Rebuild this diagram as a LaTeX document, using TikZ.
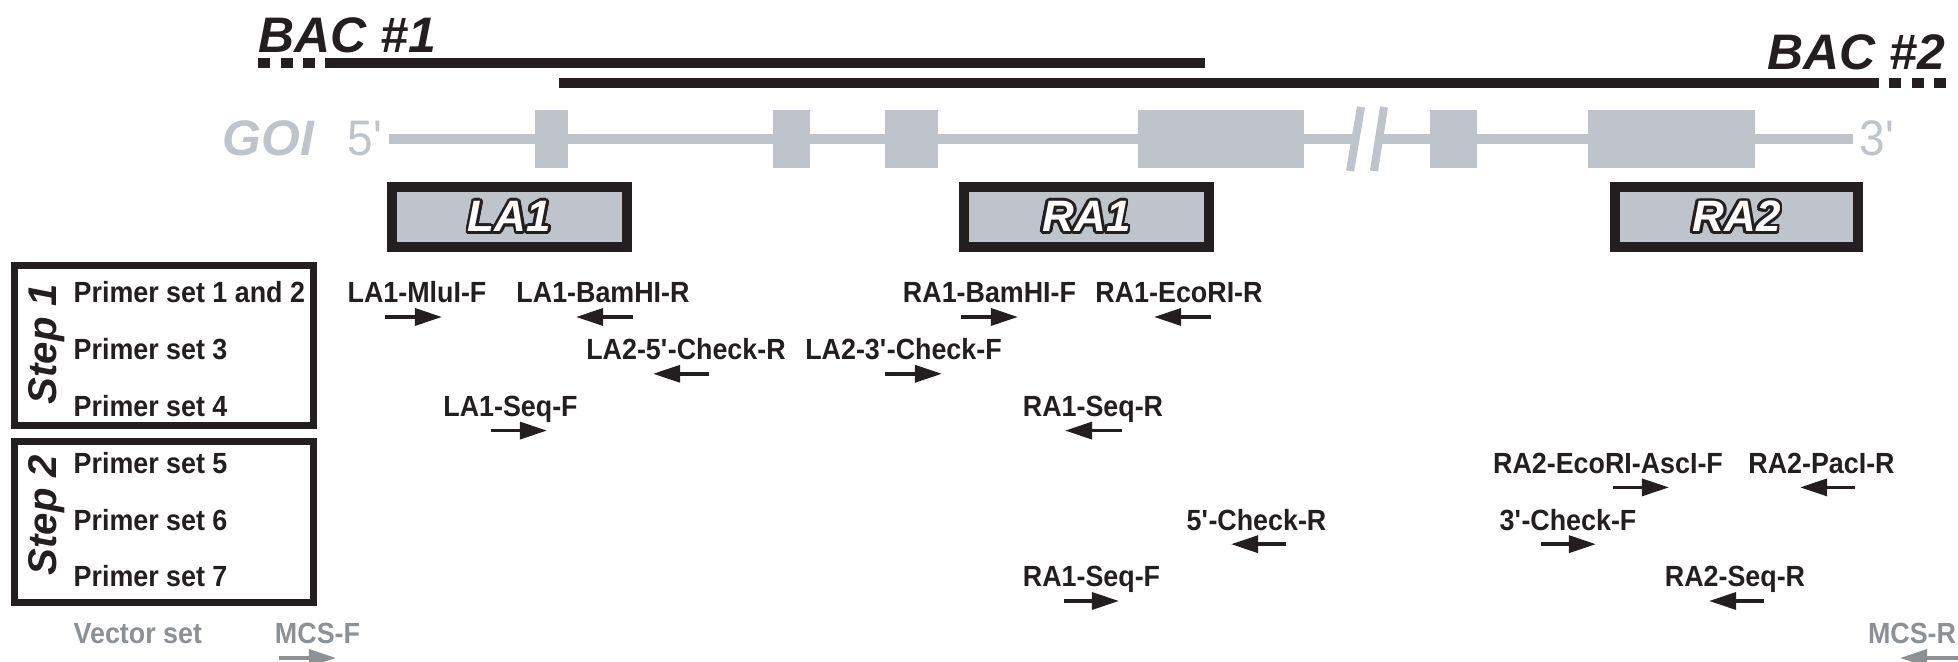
\documentclass[tikz,border=0pt]{standalone}
\usepackage{tikz}
\usepackage{xcolor}
\usepackage{fontspec}
\usepackage{contour}
\usetikzlibrary{arrows.meta}
\setmainfont{Liberation Sans}
\newfontfamily\narrowsans{Liberation Sans}[FakeStretch=0.92]
\definecolor{ink}{HTML}{231F20}
\definecolor{genegray}{HTML}{BFC4CB}
\definecolor{vecgray}{HTML}{8C9196}
\contourlength{0.8pt}
\tikzstyle{bac} = [draw=ink, line width=2.85pt]
\tikzstyle{intron} = [draw=genegray, line width=2.85pt]
\tikzstyle{exon} = [fill=genegray]
\tikzstyle{arm} = [draw=ink, fill=genegray, line width=2.85pt]
\tikzstyle{stepframe} = [draw=ink, line width=2pt]
\tikzstyle{baclabel} = [font=\bfseries\itshape\fontsize{14.2}{16}\selectfont, text=ink, inner sep=0pt]
\tikzstyle{endlabel} = [font=\narrowsans\fontsize{14.2}{16}\selectfont, text=genegray, inner sep=0pt, anchor=base west]
\tikzstyle{armlabel} = [font=\bfseries\itshape\fontsize{12.5}{14}\selectfont, text=white, inner sep=0pt]
\tikzstyle{steplabel} = [font=\bfseries\itshape\fontsize{11.4}{13}\selectfont, text=ink, inner sep=0pt, rotate=90, anchor=base]
\tikzstyle{setlabel} = [font=\narrowsans\bfseries\fontsize{8.3}{10}\selectfont, text=ink, inner sep=0pt, anchor=base west]
\tikzstyle{primer} = [font=\narrowsans\bfseries\fontsize{8.3}{10}\selectfont, text=ink, inner sep=0pt, anchor=base]
\tikzstyle{fwd} = [-{Triangle[length=7.7pt, width=4.8pt]}, draw=ink, line width=1.05pt]
\newcommand{\pr}{\textquotesingle}

\begin{document}
\begin{tikzpicture}[x=0.01cm, y=-0.01cm]
\useasboundingbox (0,0) rectangle (1958,662);

\node[baclabel, anchor=base west] (bac1) at (258,53) {BAC \#1};
\node[baclabel, anchor=base east] (bac2) at (1946,70) {BAC \#2};
\draw[bac, dash pattern=on 3.41pt off 2.99pt] (258,63) -- (316,63);
\draw[bac] (325,63) -- (1205,63);
\draw[bac] (559,83) -- (1879,83);
\draw[bac, dash pattern=on 3.41pt off 2.99pt] (1889,83) -- (1947,83);

\node[font=\bfseries\itshape\fontsize{14.2}{16}\selectfont, text=genegray, inner sep=0pt, anchor=base west] (goi) at (222,156) {GOI};
\node[endlabel] (five) at (347,156) {5\pr};
\node[endlabel] (three) at (1859,156) {3\pr};
\draw[intron] (389,139) -- (1355,139);
\draw[intron] (1379,139) -- (1853,139);
\foreach \a/\b in {535/568, 773/810, 885/938, 1138/1304, 1430/1477, 1588/1755}
  \fill[exon] (\a,110) rectangle (\b,168);
\draw[genegray, line width=2.3pt] (1350,171) -- (1361,107);
\draw[genegray, line width=2.3pt] (1374,171) -- (1384,107);

\draw[arm] (392,187) rectangle (627,247);
\draw[arm] (964,187) rectangle (1209,247);
\draw[arm] (1615,187) rectangle (1858,247);
\node[armlabel] (la1) at (509.5,218) {\contour{ink}{LA1}};
\node[armlabel] (ra1) at (1086.5,218) {\contour{ink}{RA1}};
\node[armlabel] (ra2) at (1736.5,218) {\contour{ink}{RA2}};

\draw[stepframe] (14.5,265.5) rectangle (313.5,425.5);
\draw[stepframe] (14.5,441.5) rectangle (313.5,602.5);
\node[steplabel] (step1) at (56,344) {Step 1};
\node[steplabel] (step2) at (56,515) {Step 2};

\foreach \n/\t [count=\i from 0] in {set1/Primer set 1 and 2, set3/Primer set 3, set4/Primer set 4,
    set5/Primer set 5, set6/Primer set 6, set7/Primer set 7}
  \node[setlabel] (\n) at (73,{303+56.8*\i}) {\t};
\node[setlabel, text=vecgray] (vec) at (73,643.8) {Vector set};

\foreach \id/\txt/\cx/\row/\ta/\tb in {
    mluif/LA1-MluI-F/417/0/385/442,
    bamr/LA1-BamHI-R/603/0/633/576,
    bamf/RA1-BamHI-F/989.5/0/961/1018,
    ecor/RA1-EcoRI-R/1179/0/1211/1154,
    lcr/LA2-5\pr-Check-R/686/1/709/653,
    lcf/LA2-3\pr-Check-F/903.5/1/885/942,
    lseqf/LA1-Seq-F/510.5/2/491/547,
    rseqr/RA1-Seq-R/1093/2/1122/1065,
    ascf/RA2-EcoRI-AscI-F/1608/3/1613/1669,
    pacr/RA2-PacI-R/1821.5/3/1855/1800,
    ccr/5\pr-Check-R/1256.5/4/1286/1231,
    ccf/3\pr-Check-F/1568/4/1541/1596,
    rseqf/RA1-Seq-F/1091.5/5/1064/1119,
    r2seqr/RA2-Seq-R/1735/5/1764/1709}
{
  \node[primer] (\id) at (\cx,{303+56.8*\row}) {\txt};
  \coordinate (\id-t) at (\ta,{317+56.8*\row});
  \coordinate (\id-h) at (\tb,{317+56.8*\row});
  \draw[fwd] (\id-t) -- (\id-h);
}

\node[primer, text=vecgray] (mcsf) at (317.5,643.8) {MCS-F};
\coordinate (mcsf-t) at (279,658);
\coordinate (mcsf-h) at (336,658);
\draw[fwd, draw=vecgray] (mcsf-t) -- (mcsf-h);
\node[primer, text=vecgray] (mcsr) at (1912,643.8) {MCS-R};
\coordinate (mcsr-t) at (1958,658);
\coordinate (mcsr-h) at (1900,658);
\draw[fwd, draw=vecgray] (mcsr-t) -- (mcsr-h);
\end{tikzpicture}
\end{document}
